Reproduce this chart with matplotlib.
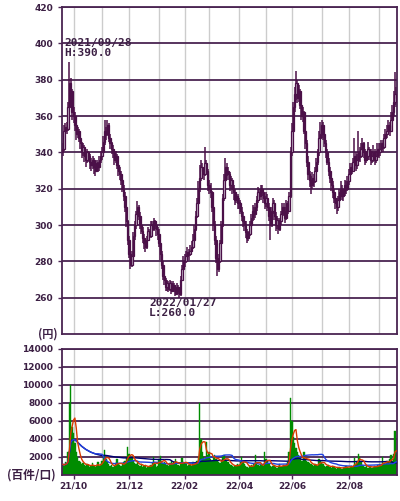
import numpy as np
import pandas as pd
import matplotlib
matplotlib.use("Agg")
import matplotlib.pyplot as plt
from pandas.tseries.offsets import CustomBusinessDay

plt.rcParams['font.family'] = ['DejaVu Sans', 'Noto Sans CJK JP']

###############################################################################
## Daily data, 2021/09/17 - 2022/09/21 (one line per month)
first_open = 340
close = [
    342, 352, 354, 353, 365, 378, 374, 362,
    360, 355, 350, 352, 348, 345, 340, 343, 338, 336, 340, 338, 335, 333, 336, 332, 330, 334, 332, 336, 338,
    340, 346, 352, 350, 355, 348, 345, 342, 340, 336, 338, 333, 330, 328, 325, 320, 316, 310, 302, 292,
    284, 278, 283, 294, 300, 306, 310, 305, 300, 297, 293, 290, 288, 292, 297, 294, 300, 298, 302, 300, 298, 295,
    290, 284, 278, 272, 270, 266, 268, 265, 268, 264, 267, 265, 262, 266, 264, 262, 270, 276, 280,
    280, 283, 285, 284, 286, 288, 292, 298, 305, 312, 320, 326, 332, 330, 328, 334, 330, 322,
    320, 318, 310, 300, 292, 282, 276, 280, 290, 300, 315, 325, 332, 330, 328, 322, 325, 320, 318, 314, 316, 312,
    312, 308, 305, 302, 300, 296, 293, 295, 300, 304, 308, 306, 310, 314, 318, 316, 320, 318, 315, 312,
    315, 310, 305, 300, 308, 312, 305, 300, 303, 298, 302, 306, 310, 308, 304, 312, 308, 316, 340,
    352, 365, 372, 378, 370, 374, 366, 360, 362, 352, 345, 335, 328, 325, 322, 326, 324, 330, 335, 340, 348, 350,
    355, 350, 345, 340, 335, 330, 326, 322, 318, 315, 312, 310, 314, 318, 320, 316, 318, 322, 320, 324,
    328, 332, 330, 335, 338, 333, 336, 340, 338, 342, 345, 340, 336, 338, 342, 340, 336, 338, 340, 336, 338, 342,
    340, 342, 345, 343, 348, 350, 352, 355, 352, 358, 362, 368, 372, 370,
]
high = [
    345, 355, 356, 357, 368, 390, 381, 375,
    365, 362, 356, 354, 353, 349, 346, 345, 344, 340, 342, 341, 339, 337, 338, 337, 333, 336, 335, 338, 341,
    343, 349, 358, 354, 358, 356, 350, 346, 344, 342, 341, 339, 335, 332, 330, 327, 322, 318, 311, 303,
    294, 287, 286, 296, 302, 308, 313, 311, 307, 302, 299, 295, 292, 294, 299, 298, 302, 302, 304, 303, 302, 299,
    298, 292, 286, 280, 274, 271, 270, 269, 270, 269, 269, 268, 267, 268, 267, 266, 272, 278, 283,
    284, 286, 288, 287, 289, 291, 295, 300, 308, 315, 324, 333, 336, 334, 332, 343, 336, 331,
    325, 323, 319, 312, 302, 294, 284, 284, 292, 302, 317, 328, 337, 334, 332, 329, 327, 326, 322, 320, 318, 317,
    315, 314, 310, 307, 304, 302, 298, 297, 302, 306, 311, 310, 312, 316, 321, 320, 322, 322, 319, 316,
    318, 317, 312, 307, 310, 315, 314, 307, 305, 304, 304, 308, 312, 312, 310, 314, 313, 318, 343,
    356, 368, 376, 385, 380, 377, 375, 368, 365, 363, 355, 347, 338, 330, 327, 329, 328, 332, 337, 342, 352, 357,
    358, 357, 352, 347, 342, 337, 332, 328, 324, 320, 317, 315, 316, 320, 324, 322, 320, 325, 324, 327,
    331, 334, 334, 337, 348, 340, 339, 352, 343, 345, 348, 346, 342, 341, 346, 343, 342, 341, 344, 342, 341, 345,
    345, 345, 347, 347, 350, 353, 355, 358, 357, 362, 366, 374, 384, 376,
]
low = [
    338, 341, 349, 350, 352, 362, 368, 358,
    356, 352, 347, 348, 346, 342, 337, 338, 335, 332, 334, 335, 331, 330, 331, 328, 327, 329, 329, 330, 334,
    336, 338, 344, 347, 349, 346, 342, 339, 337, 333, 334, 331, 327, 325, 322, 318, 313, 307, 299, 289,
    282, 276, 277, 282, 292, 298, 304, 303, 298, 295, 290, 287, 285, 287, 291, 292, 293, 296, 297, 298, 294, 292,
    288, 281, 276, 270, 267, 264, 264, 263, 264, 262, 263, 263, 261, 262, 262, 260, 261, 269, 274,
    277, 279, 282, 281, 283, 285, 287, 291, 297, 304, 311, 318, 324, 326, 325, 327, 328, 319,
    317, 315, 307, 297, 289, 279, 272, 274, 279, 289, 299, 313, 323, 327, 325, 319, 320, 317, 314, 311, 312, 309,
    309, 306, 302, 299, 297, 293, 290, 291, 294, 299, 302, 303, 304, 308, 312, 313, 314, 316, 312, 309,
    310, 308, 302, 292, 299, 306, 303, 297, 298, 295, 297, 300, 304, 305, 301, 303, 306, 307, 315,
    338, 350, 362, 369, 367, 368, 364, 358, 357, 350, 342, 332, 325, 321, 317, 320, 321, 323, 328, 333, 338, 346,
    348, 347, 343, 337, 333, 327, 323, 319, 315, 312, 309, 306, 308, 312, 316, 314, 313, 316, 317, 319,
    322, 326, 328, 329, 333, 330, 331, 334, 335, 337, 340, 337, 333, 334, 336, 336, 333, 334, 335, 333, 334, 336,
    337, 338, 340, 340, 342, 346, 348, 350, 349, 351, 356, 360, 366, 365,
]
# volume (百件/口)
volume = [
    1200, 1000, 1400, 1300, 2500, 8000, 10000, 5300,
    4700, 3600, 2600, 2000, 1600, 1400, 1200, 1300, 1100, 1000, 1200, 1100, 900, 1000, 1300, 1000, 900, 1100, 1400, 1000, 1200,
    1500, 2200, 2800, 1800, 1400, 1200, 1000, 1100, 900, 1000, 1300, 1800, 1200, 1100, 1000, 1200, 1400, 1600, 2000, 3100,
    2300, 1900, 2000, 1500, 1300, 1200, 1400, 1100, 1000, 1200, 900, 1000, 1100, 800, 900, 1000, 1100, 1300, 2000, 1200, 900, 1000,
    1800, 2100, 1500, 1300, 1400, 1200, 1100, 1000, 1300, 1500, 1200, 1400, 1800, 1300, 1100, 1000, 1200, 1900, 1400,
    1300, 1200, 1000, 1100, 1200, 1000, 1400, 1200, 1300, 1600, 2000, 8000, 4000, 2500, 2000, 1800, 3700, 2200,
    2500, 1800, 1600, 2000, 2200, 1800, 1600, 1400, 1300, 1500, 2000, 2200, 1800, 1500, 1400, 1200, 1100, 1000, 900, 1000, 1100, 1200,
    1100, 1400, 2000, 1500, 1200, 1000, 900, 800, 1000, 1100, 1000, 1200, 2200, 1300, 1100, 1000, 1200, 1100, 1000, 2600,
    1800, 1500, 1200, 1000, 900, 1000, 1100, 900, 800, 1000, 1200, 900, 1000, 1100, 1000, 1200, 1400, 2500, 8500,
    6000, 4200, 3500, 3000, 2500, 2200, 1800, 1600, 1500, 2600, 1800, 1500, 1400, 1300, 1200, 1100, 1000, 1200, 1100, 1000, 1800, 1500,
    1400, 1200, 1000, 900, 1000, 1100, 900, 800, 1000, 900, 800, 700, 800, 900, 800, 700, 800, 900, 1000, 900,
    800, 900, 1000, 900, 1900, 1200, 1500, 2300, 2000, 1400, 1100, 1000, 900, 1000, 800, 900, 1000, 800, 900, 1000, 900, 1100,
    1000, 1200, 1100, 2000, 1300, 1200, 1500, 1400, 1800, 2200, 1600, 2300, 4900, 2400,
]
jp_holidays = ['2021-09-20', '2021-09-23', '2021-11-03', '2021-11-23', '2021-12-31',
               '2022-01-03', '2022-01-10', '2022-02-11', '2022-02-23', '2022-03-21',
               '2022-04-29', '2022-05-03', '2022-05-04', '2022-05-05', '2022-07-18',
               '2022-08-11', '2022-09-19']
hi_text = "2021/09/28\nH:390.0"
lo_text = "2022/01/27\nL:260.0"
###############################################################################

n = len(close)
if not (len(high) == n and len(low) == n and len(volume) == n):
    raise ValueError("lengths %d %d %d %d" % (n, len(high), len(low), len(volume)))

dates = pd.date_range('2021-09-17', periods=n, freq=CustomBusinessDay(holidays=jp_holidays))
close = np.array(close, float)
high = np.array(high, float)
low = np.array(low, float)
opn = np.concatenate([[first_open], close[:-1]])
volume = np.array(volume, float)
idx = np.arange(n)

vs = pd.Series(volume)
ma5 = vs.rolling(5, min_periods=1).mean()
ma25 = vs.rolling(25, min_periods=1).mean()
ma75 = vs.rolling(75, min_periods=1).mean()

# month starts
mstart = [i for i in range(1, n) if dates[i].month != dates[i - 1].month]
mlabels = {i: dates[i].strftime('%y/%m') for i in mstart if dates[i].month % 2 == 0}

PUR = '#4a2452'
CANDLE = '#4b1048'
GRID_V = '#cccccc'
TXT = '#3c2044'

fig = plt.figure(figsize=(4.0, 5.01), dpi=100)
ax = fig.add_axes([0.155, 0.333, 0.8375, 0.653])
axv = fig.add_axes([0.155, 0.052, 0.8375, 0.2515])

for a in (ax, axv):
    a.set_xlim(-0.5, n - 0.5)
    for m in mstart:
        a.axvline(m, color=GRID_V, lw=1.0, zorder=0)
    for s in a.spines.values():
        s.set_color(PUR)
        s.set_linewidth(1.3)
    a.tick_params(axis='y', length=3, width=1.0, color=PUR, pad=3.5,
                  labelsize=6.5, labelcolor=TXT)

# ---- price panel
ax.set_ylim(240, 420)
yt = np.arange(260, 421, 20)
ax.set_yticks(yt)
ax.set_yticklabels([str(v) for v in yt], fontweight='bold')
for v in yt:
    ax.axhline(v, color=PUR, lw=1.3, zorder=1)
ax.set_xticks([])

up = close >= opn
body_lo = np.minimum(opn, close)
body_h = np.maximum(np.abs(close - opn), 0.5)
ax.vlines(idx, low, high, color=CANDLE, lw=1.1, zorder=2)
ax.bar(idx[up], body_h[up], bottom=body_lo[up], width=1.0, color='#c8b8cc',
       edgecolor=CANDLE, linewidth=0.9, zorder=3)
ax.bar(idx[~up], body_h[~up], bottom=body_lo[~up], width=1.0, color=CANDLE,
       edgecolor=CANDLE, linewidth=0.9, zorder=3)

ax.text(1.0, 403, hi_text, family='DejaVu Sans Mono', fontweight='bold', fontsize=8,
        color=TXT, va='top', ha='left', linespacing=1.0, zorder=5)
ax.text(63.7, 260, lo_text, family='DejaVu Sans Mono', fontweight='bold', fontsize=8,
        color=TXT, va='top', ha='left', linespacing=1.0, zorder=5)
ax.text(-0.012, 0.0, "(円)", transform=ax.transAxes, family=['Noto Sans CJK JP', 'DejaVu Sans'],
        fontweight='bold', fontsize=8, color=TXT, ha='right', va='center')

# ---- volume panel
axv.set_ylim(0, 14000)
vt = np.arange(2000, 14001, 2000)
axv.set_yticks(vt)
axv.set_yticklabels([str(v) for v in vt], fontweight='bold')
for v in vt:
    axv.axhline(v, color=PUR, lw=1.3, zorder=1)
axv.bar(idx, volume, width=1.0, color='#008c00', edgecolor='#008c00', linewidth=0.3, zorder=2)
axv.plot(idx, ma75, color='#000070', lw=1.0, zorder=3)
axv.plot(idx, ma25, color='#2040e0', lw=1.0, zorder=3)
axv.plot(idx, ma5, color='#d83a00', lw=1.0, zorder=4)

axv.set_xticks(list(mlabels.keys()))
axv.set_xticklabels(list(mlabels.values()), fontweight='bold')
axv.tick_params(axis='x', length=3, width=1.0, color=PUR, pad=2,
                labelsize=6.5, labelcolor=TXT)
axv.text(-0.02, 0.0, "(百件/口)", transform=axv.transAxes,
         family=['Noto Sans CJK JP', 'DejaVu Sans'], fontweight='bold', fontsize=8.5,
         color=TXT, ha='right', va='center')

fig.savefig('out.png', dpi=100)
